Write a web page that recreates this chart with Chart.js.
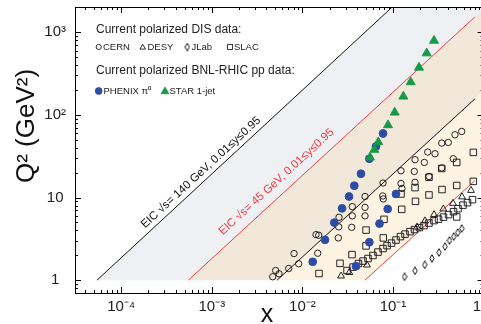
<!DOCTYPE html>
<html>
<head>
<meta charset="utf-8">
<script src="https://cdn.jsdelivr.net/npm/chart.js@4.4.1/dist/chart.umd.min.js"></script>
<style>
  html, body { margin: 0; padding: 0; background: #fff; overflow: hidden; }
  #marco { position: relative; width: 500px; height: 324px; }
</style>
</head>
<body>
<div id="marco"><canvas id="grafico" width="500" height="324"></canvas></div>
<script>
// Valores: [x, Q^2]
const STAR = [
    [0.2835, 792], [0.2355, 557], [0.1936, 374], [0.1568, 249], [0.130, 167],
    [0.1044, 107], [0.0881, 75.3], [0.0688, 46.9], [0.0622, 37.9], [0.0557, 30.6]
];

const PHENIX = [
    [0.0776, 59.6], [0.0649, 41.5], [0.0548, 29.5], [0.0443, 19.4], [0.0374, 13.9],
    [0.0327, 10.3], [0.0274, 7.40], [0.0225, 4.98], [0.01776, 3.08], [0.0130, 1.67],
    [0.1079, 11.05], [0.0874, 7.28], [0.0710, 4.84], [0.0548, 2.88], [0.0390, 1.48]
];

const CERN = [
    [0.573, 63.0], [0.483, 57.5], [0.408, 46.4], [0.345, 45.6], [0.2415, 35.5],
    [0.2908, 33.9], [0.463, 29.5], [0.175, 28.7], [0.2216, 26.6], [0.345, 22.8],
    [0.1718, 20.7], [0.2495, 18.0], [0.175, 15.3], [0.1225, 21.1], [0.1225, 14.8],
    [0.1257, 12.9], [0.0776, 15.0], [0.0770, 10.45], [0.0781, 9.62], [0.0491, 10.3],
    [0.0355, 7.76], [0.0491, 7.61], [0.0355, 6.00], [0.0491, 6.00], [0.0350, 4.37],
    [0.02535, 5.77], [0.02516, 4.42], [0.0249, 3.25], [0.01413, 3.56], [0.01513, 3.50],
    [0.01476, 2.12], [0.00808, 2.10], [0.0091, 1.58], [0.00706, 1.385], [0.00552, 1.195],
    [0.00507, 1.31], [0.0047, 1.10]
];

const DESY = [
    [0.726, 12.2], [0.578, 10.2], [0.4595, 8.51], [0.359, 7.28], [0.2835, 6.22],
    [0.2255, 5.22], [0.184, 4.39], [0.0267, 1.124], [0.0329, 1.239], [0.0516, 1.526]
];

const JLAB = [
    [0.134, 1.10], [0.175, 1.30], [0.2239, 1.535], [0.2694, 1.83], [0.322, 2.16],
    [0.375, 2.55], [0.420, 3.02], [0.4677, 3.37], [0.5177, 3.77], [0.573, 4.21]
];

const SLAC = [
    [0.0311, 1.31], [0.0362, 1.44], [0.0416, 1.59], [0.0467, 1.705], [0.0530, 1.83],
    [0.0601, 1.99], [0.0683, 2.19], [0.0776, 2.415], [0.0859, 2.62], [0.0963, 2.81],
    [0.1079, 3.06], [0.121, 3.37], [0.1357, 3.61], [0.154, 3.87], [0.1727, 4.10],
    [0.196, 4.33], [0.220, 4.58], [0.2495, 4.91], [0.2835, 5.26], [0.318, 5.48],
    [0.361, 5.80], [0.410, 6.22], [0.4654, 6.75], [0.522, 7.34], [0.592, 8.09],
    [0.664, 8.68], [0.754, 9.43],
    [0.77, 35.2], [0.505, 26.6], [0.345, 22.5], [0.2495, 17.6], [0.175, 13.2],
    [0.77, 15.7], [0.505, 14.0], [0.3475, 12.5], [0.2495, 10.75], [0.177, 9.0],
    [0.1225, 11.05], [0.1248, 7.20], [0.0796, 5.45], [0.0504, 4.04], [0.0781, 3.25],
    [0.0504, 2.60], [0.0353, 2.04], [0.026, 1.60], [0.01525, 1.205], [0.505, 5.83]
];

// Lineas EIC (extremos) y zonas cubiertas
const EIC140_ALTA = [[5.4e-5, 1], [0.098, 2020]];
const EIC140_BAJA = [[0.00525, 1], [0.80, 156]];
const EIC45_ALTA = [[5.5e-4, 1], [0.80, 1530]];
const EIC45_BAJA = [[0.049, 1], [0.80, 16]];

const ZONA_GRIS = [[5.4e-5, 1], [0.098, 2020], [1, 2020], [1, 1910], [5.5e-4, 1]];
const ZONA_OCRE = [[5.5e-4, 1], [1, 1910], [1, 195], [0.00525, 1]];
const ZONA_CREMA = [[0.00525, 1], [1, 195], [1, 20], [0.049, 1]];

const X_TICKS = [1e-4, 1e-3, 1e-2, 1e-1, 1];
const X_ETIQUETAS = ["10\u207B\u2074", "10\u207B\u00B3", "10\u207B\u00B2", "10\u207B\u00B9", "10\u2070"];
const Y_TICKS = [1, 10, 100, 1000];
const Y_ETIQUETAS = ["1", "10", "10\u00B2", "10\u00B3"];

const FUENTE = "'Liberation Sans', Arial, Helvetica, sans-serif";
const AZUL = "#2c4da3";
const VERDE = "#17994a";
const ROJO = "#ef3e3e";
const TRAZO = "#1a1a1a";

function aPuntos(lista) {
    return lista.map(([x, y]) => ({ x, y }));
}

function crearRombo() {
    const c = document.createElement("canvas");
    c.width = 6;
    c.height = 9;
    const g = c.getContext("2d");
    g.strokeStyle = TRAZO;
    g.lineWidth = 1;
    g.beginPath();
    g.moveTo(3, 0.7);
    g.lineTo(5.2, 4.5);
    g.lineTo(3, 8.3);
    g.lineTo(0.8, 4.5);
    g.closePath();
    g.stroke();
    return c;
}

const ROMBO = crearRombo();

function serieMarcas(etiqueta, datos, estilo, radio, relleno, borde, orden) {
    return {
        label: etiqueta,
        data: aPuntos(datos),
        pointStyle: estilo,
        pointRadius: radio,
        pointBackgroundColor: relleno,
        pointBorderColor: borde,
        pointBorderWidth: 0.95,
        showLine: false,
        order: orden
    };
}

function serieLinea(datos, color) {
    return {
        data: aPuntos(datos),
        showLine: true,
        borderColor: color,
        borderWidth: 1,
        pointRadius: 0,
        fill: false,
        order: 10
    };
}

function serieZona(datos, color) {
    return {
        data: aPuntos(datos),
        showLine: true,
        borderWidth: 0,
        borderColor: "rgba(0,0,0,0)",
        backgroundColor: color,
        pointRadius: 0,
        fill: "shape",
        order: 20
    };
}

const decoracion = {
    id: "decoracion",
    afterDatasetsDraw(chart) {
        const { ctx, chartArea: a, scales } = chart;
        const ex = scales.x;
        const ey = scales.y;
        ctx.save();

        // marco y marcas hacia dentro
        ctx.strokeStyle = "#000";
        ctx.lineWidth = 1;
        ctx.strokeRect(a.left + 0.5, a.top + 0.5, a.right - a.left, a.bottom - a.top);

        ctx.beginPath();
        for (let e = -5; e <= 0; e++) {
            for (let m = 1; m <= 9; m++) {
                const v = m * Math.pow(10, e);
                if (v < ex.min || v > ex.max) continue;
                const px = Math.round(ex.getPixelForValue(v)) + 0.5;
                const largo = m === 1 ? 6 : 3;
                ctx.moveTo(px, a.bottom);
                ctx.lineTo(px, a.bottom - largo);
                ctx.moveTo(px, a.top);
                ctx.lineTo(px, a.top + largo);
            }
        }
        for (let e = -1; e <= 3; e++) {
            for (let m = 1; m <= 9; m++) {
                const v = m * Math.pow(10, e);
                if (v < ey.min || v > ey.max) continue;
                const py = Math.round(ey.getPixelForValue(v)) + 0.5;
                const largo = m === 1 ? 6 : 3;
                ctx.moveTo(a.left, py);
                ctx.lineTo(a.left + largo, py);
                ctx.moveTo(a.right, py);
                ctx.lineTo(a.right - largo, py);
            }
        }
        ctx.stroke();

        // textos a lo largo de las lineas EIC
        const textoLinea = (texto, ancla, linea, color) => {
            const x1 = ex.getPixelForValue(linea[0][0]);
            const y1 = ey.getPixelForValue(linea[0][1]);
            const x2 = ex.getPixelForValue(linea[1][0]);
            const y2 = ey.getPixelForValue(linea[1][1]);
            const angulo = Math.atan2(y2 - y1, x2 - x1);
            ctx.save();
            ctx.translate(ex.getPixelForValue(ancla[0]), ey.getPixelForValue(ancla[1]));
            ctx.rotate(angulo);
            ctx.fillStyle = color;
            ctx.font = "11.5px " + FUENTE;
            ctx.textAlign = "left";
            ctx.textBaseline = "alphabetic";
            ctx.fillText(texto, 0, 0);
            ctx.restore();
        };
        textoLinea("EIC \u221As= 140 GeV, 0.01\u2264y\u22640.95", [1.83e-4, 4.21], EIC140_ALTA, "#111");
        textoLinea("EIC \u221As= 45 GeV, 0.01\u2264y\u22640.95", [1.32e-3, 3.47], EIC45_ALTA, ROJO);

        // leyenda
        const h = Chart.helpers;
        ctx.fillStyle = "#222";
        ctx.textAlign = "left";
        ctx.textBaseline = "middle";
        ctx.font = "12px " + FUENTE;
        ctx.fillText("Current polarized DIS data:", 96, 30);
        ctx.fillText("Current polarized BNL-RHIC pp data:", 96, 71);

        const marca = (estilo, radio, relleno, borde, x, y) => {
            ctx.fillStyle = relleno;
            ctx.strokeStyle = borde;
            ctx.lineWidth = 0.9;
            h.drawPoint(ctx, { pointStyle: estilo, radius: radio, rotation: 0, borderWidth: 0.9 }, x, y);
        };
        marca("circle", 2.6, "rgba(0,0,0,0)", TRAZO, 98.7, 47);
        marca("triangle", 3.2, "rgba(0,0,0,0)", TRAZO, 142.7, 47.5);
        marca(ROMBO, 3, "rgba(0,0,0,0)", TRAZO, 187.3, 47);
        marca("rect", 3.6, "rgba(0,0,0,0)", TRAZO, 230, 47);
        marca("circle", 3.4, AZUL, AZUL, 98.7, 91);
        marca("triangle", 4.4, VERDE, VERDE, 165, 91.5);

        ctx.fillStyle = "#222";
        ctx.font = "9.5px " + FUENTE;
        ctx.fillText("CERN", 103, 47);
        ctx.fillText("DESY", 147.5, 47);
        ctx.fillText("JLab", 191.5, 47);
        ctx.fillText("SLAC", 234, 47);
        ctx.fillText("PHENIX \u03C0\u2070", 103.5, 91);
        ctx.fillText("STAR 1-jet", 169.5, 91);

        // titulos de ejes
        ctx.fillStyle = "#111";
        ctx.font = "26px " + FUENTE;
        ctx.save();
        ctx.translate(27, 126);
        ctx.rotate(-Math.PI / 2);
        ctx.textAlign = "center";
        ctx.textBaseline = "middle";
        ctx.fillText("Q\u00B2 (GeV\u00B2)", 0, 0);
        ctx.restore();

        ctx.font = "25px " + FUENTE;
        ctx.textAlign = "center";
        ctx.textBaseline = "alphabetic";
        ctx.fillText("x", 267, 322);

        ctx.restore();
    }
};

new Chart(document.getElementById("grafico"), {
    type: "scatter",
    data: {
        datasets: [
            serieMarcas("STAR 1-jet", STAR, "triangle", 5.2, VERDE, VERDE, 0),
            serieMarcas("PHENIX \u03C0\u2070", PHENIX, "circle", 3.9, AZUL, AZUL, 1),
            serieMarcas("CERN", CERN, "circle", 3.2, "rgba(0,0,0,0)", TRAZO, 2),
            serieMarcas("DESY", DESY, "triangle", 4, "rgba(0,0,0,0)", TRAZO, 3),
            serieMarcas("JLab", JLAB, ROMBO, 3, "rgba(0,0,0,0)", TRAZO, 4),
            serieMarcas("SLAC", SLAC, "rect", 4.6, "rgba(0,0,0,0)", TRAZO, 5),
            serieLinea(EIC140_ALTA, "#111"),
            serieLinea(EIC140_BAJA, "#111"),
            serieLinea(EIC45_ALTA, ROJO),
            serieLinea(EIC45_BAJA, ROJO),
            serieZona(ZONA_CREMA, "#fdf3e2"),
            serieZona(ZONA_OCRE, "#f2e8d9"),
            serieZona(ZONA_GRIS, "#eef0f4")
        ]
    },
    options: {
        responsive: false,
        animation: false,
        events: [],
        devicePixelRatio: 1,
        layout: { padding: { left: 0, right: 16.4, top: 7, bottom: 0 } },
        plugins: {
            legend: { display: false },
            tooltip: { enabled: false }
        },
        scales: {
            x: {
                type: "logarithmic",
                min: 3.09e-5,
                max: 1,
                grid: { display: false, drawTicks: false },
                border: { display: false },
                afterBuildTicks: escala => {
                    escala.ticks = X_TICKS.map(v => ({ value: v }));
                },
                afterFit: escala => {
                    escala.height = 31;
                    escala.paddingLeft = 0;
                    escala.paddingRight = 0;
                },
                ticks: {
                    autoSkip: false,
                    maxRotation: 0,
                    padding: 5,
                    color: "#222",
                    font: { family: FUENTE, size: 15 },
                    callback: (valor, i) => X_ETIQUETAS[i]
                }
            },
            y: {
                type: "logarithmic",
                min: 0.71,
                max: 2022,
                grid: { display: false, drawTicks: false },
                border: { display: false },
                afterBuildTicks: escala => {
                    escala.ticks = Y_TICKS.map(v => ({ value: v }));
                },
                afterFit: escala => {
                    escala.width = 75;
                    escala.paddingTop = 0;
                    escala.paddingBottom = 0;
                },
                ticks: {
                    autoSkip: false,
                    padding: 9,
                    crossAlign: "center",
                    color: "#222",
                    font: { family: FUENTE, size: 15 },
                    callback: (valor, i) => Y_ETIQUETAS[i]
                }
            }
        }
    },
    plugins: [decoracion]
});
</script>
</body>
</html>
